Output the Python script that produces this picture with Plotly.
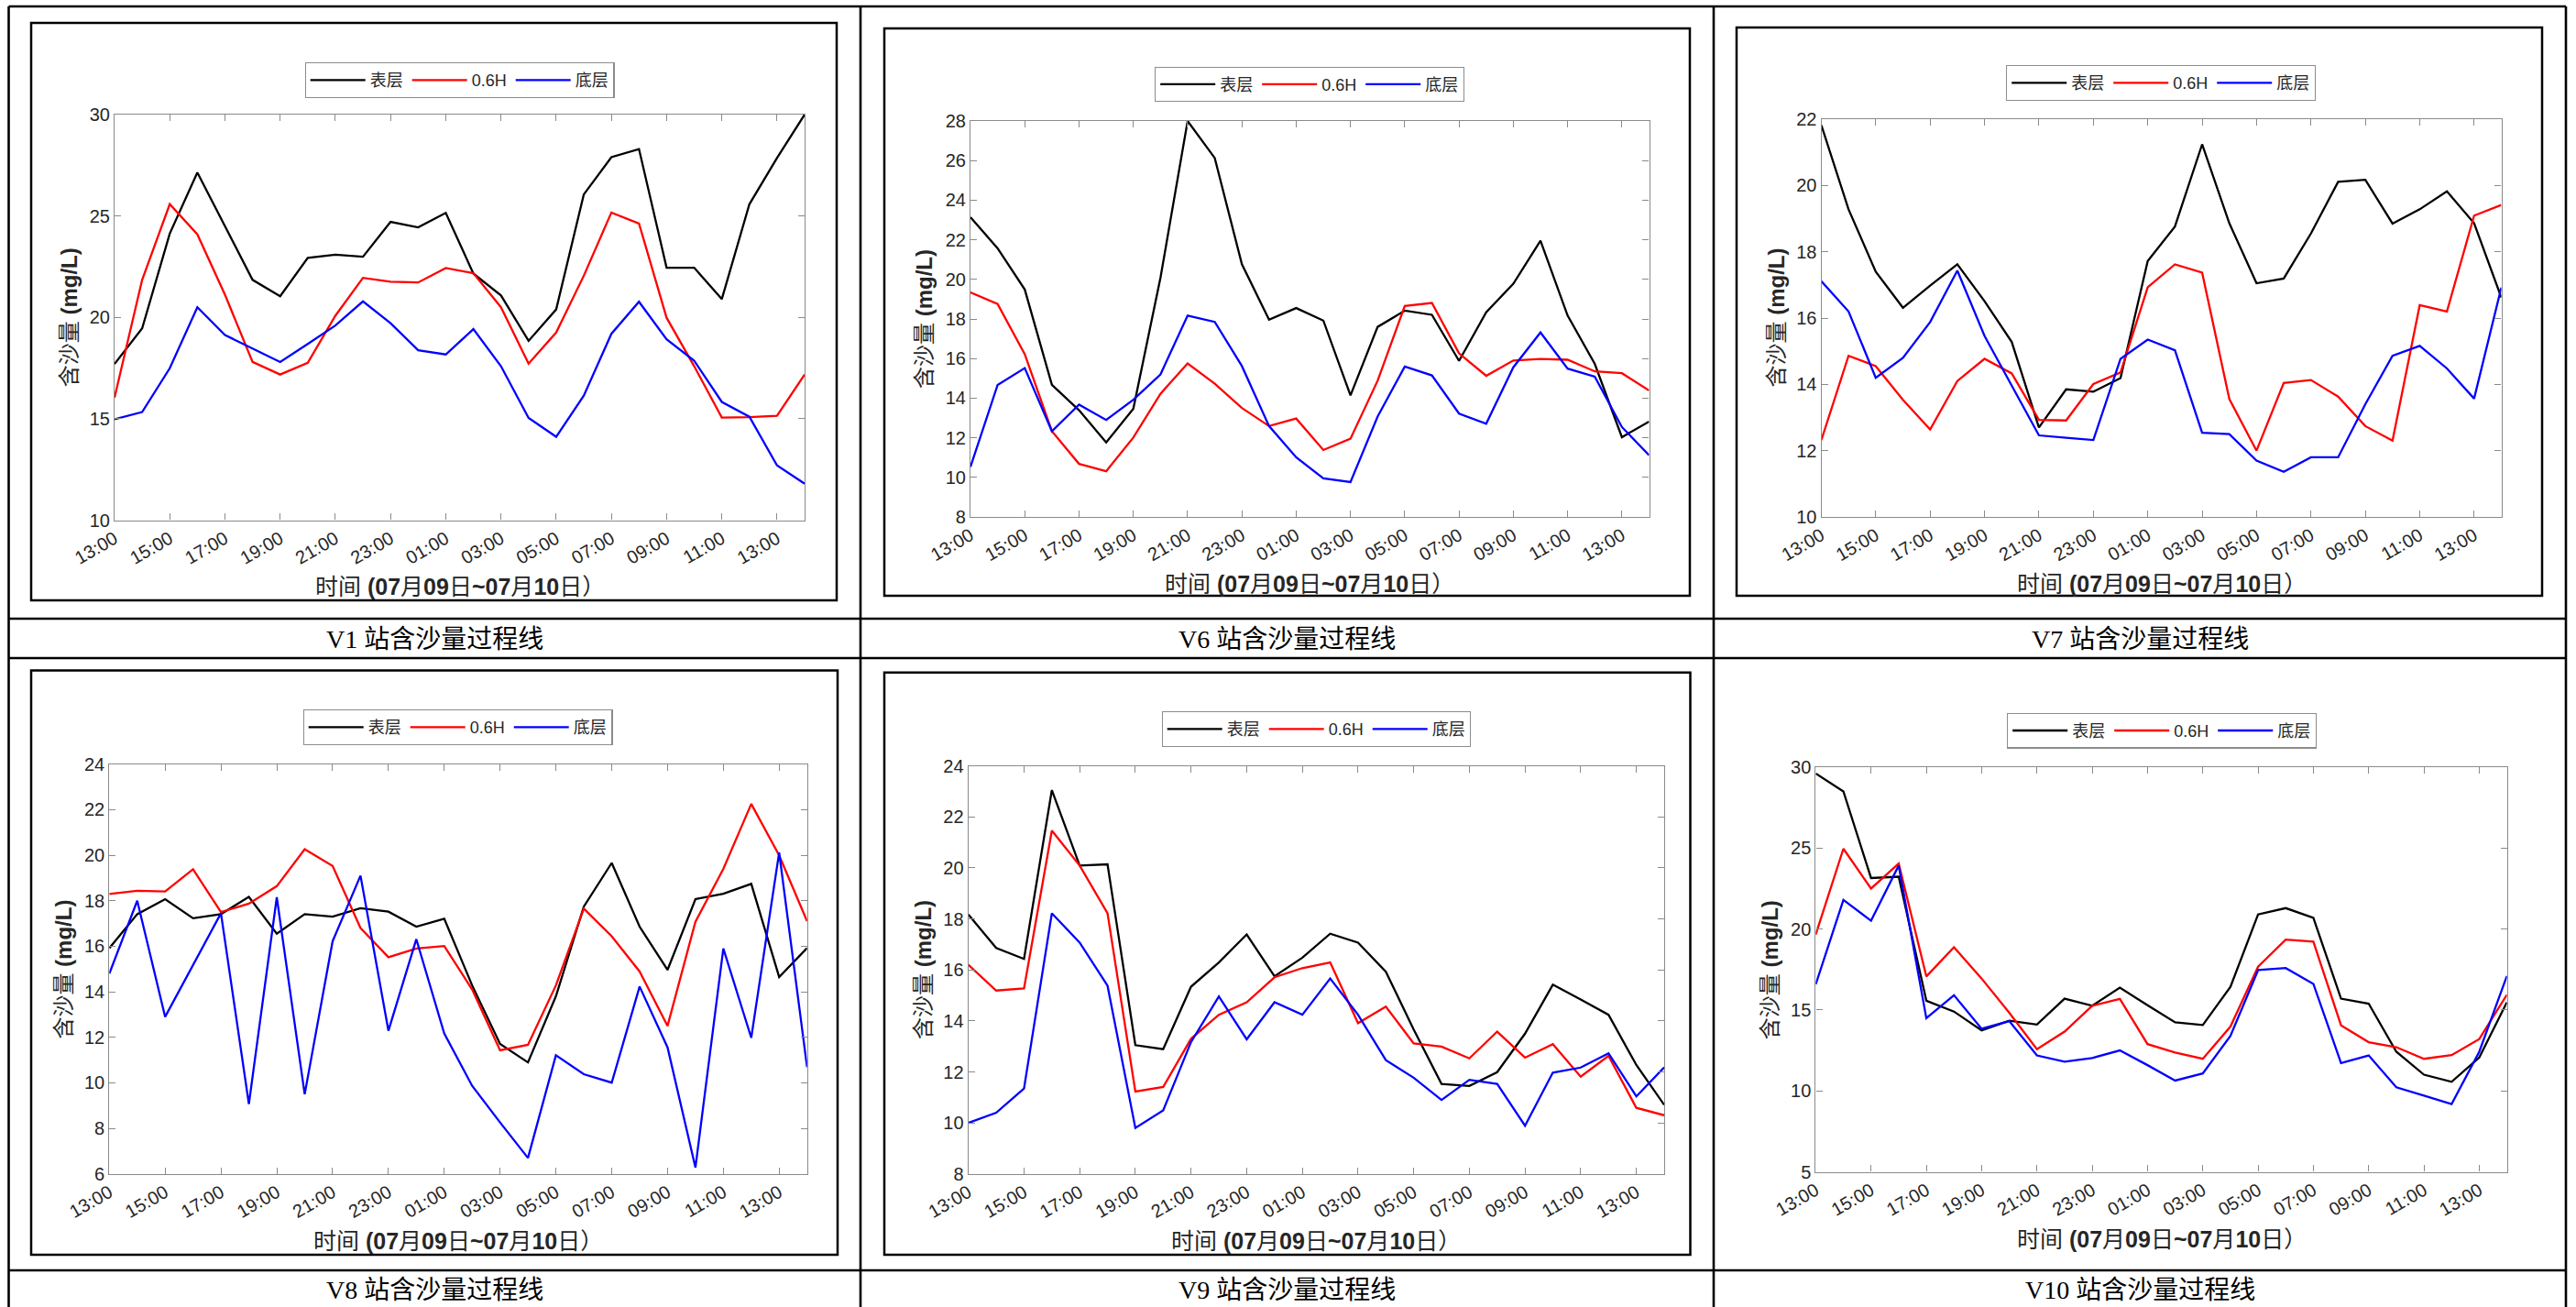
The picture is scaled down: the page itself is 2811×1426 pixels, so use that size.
import plotly.graph_objects as go

W, H = 2811, 1426

hours = list(range(26))
tick_vals = list(range(0, 25, 2))
tick_text = ["13:00", "15:00", "17:00", "19:00", "21:00", "23:00", "01:00",
             "03:00", "05:00", "07:00", "09:00", "11:00", "13:00"]

series_names = ["表层", "0.6H", "底层"]
series_colors = ["#000000", "#ff0000", "#0000ff"]

stations = ["V1", "V6", "V7", "V8", "V9", "V10"]

v1_surface = [17.7, 19.46, 24.13, 27.14, 24.5, 21.85, 21.04, 22.93, 23.09, 22.99, 24.71, 24.44, 25.15,
              22.16, 21.08, 18.84, 20.39, 26.06, 27.9, 28.3, 22.45, 22.45, 20.9, 25.58, 27.86, 30.0]
v1_mid = [16.04, 21.85, 25.58, 24.09, 21.12, 17.8, 17.18, 17.76, 20.08, 21.95, 21.76, 21.72, 22.43,
          22.18, 20.5, 17.72, 19.25, 22.05, 25.17, 24.63, 19.98, 17.59, 15.06, 15.08, 15.15, 17.18]
v1_bottom = [14.98, 15.33, 17.49, 20.5, 19.13, 18.46, 17.8, 18.69, 19.6, 20.79, 19.71, 18.38, 18.17,
             19.42, 17.59, 15.04, 14.11, 16.14, 19.19, 20.77, 18.92, 17.86, 15.83, 15.1, 12.7, 11.8]

v6_surface = [23.14, 21.57, 19.49, 14.67, 13.39, 11.76, 13.46, 20.08, 28.0, 26.13, 20.76, 17.96, 18.55,
              17.92, 14.14, 17.6, 18.42, 18.21, 15.88, 18.34, 19.78, 21.95, 18.17, 15.73, 12.03, 12.82]
v6_mid = [19.34, 18.76, 16.22, 12.33, 10.68, 10.31, 12.01, 14.22, 15.75, 14.73, 13.5, 12.59, 12.97,
          11.38, 11.95, 14.88, 18.66, 18.81, 16.26, 15.13, 15.9, 15.98, 15.94, 15.35, 15.26, 14.39]
v6_bottom = [10.53, 14.67, 15.52, 12.33, 13.67, 12.9, 13.92, 15.2, 18.17, 17.85, 15.62, 12.59, 11.01,
             9.95, 9.76, 13.07, 15.6, 15.15, 13.22, 12.71, 15.56, 17.32, 15.49, 15.09, 12.54, 11.12]

v7_surface = [21.82, 19.28, 17.4, 16.31, 16.98, 17.62, 16.51, 15.28, 12.7, 13.85, 13.78, 14.19, 17.72,
              18.76, 21.24, 18.86, 17.05, 17.19, 18.55, 20.11, 20.17, 18.85, 19.28, 19.82, 18.86, 16.62]
v7_mid = [12.32, 14.86, 14.55, 13.53, 12.64, 14.1, 14.77, 14.33, 12.93, 12.91, 14.01, 14.36, 16.93,
          17.62, 17.37, 13.56, 12.0, 14.04, 14.13, 13.63, 12.74, 12.3, 16.39, 16.2, 19.09, 19.41]
v7_bottom = [17.11, 16.2, 14.2, 14.8, 15.88, 17.43, 15.46, 13.94, 12.46, 12.39, 12.32, 14.77, 15.35,
             15.03, 12.54, 12.5, 11.7, 11.36, 11.8, 11.8, 13.4, 14.86, 15.16, 14.48, 13.57, 16.92]

v8_surface = [15.92, 17.41, 18.07, 17.23, 17.41, 18.17, 16.55, 17.41, 17.3, 17.67, 17.52, 16.86, 17.21,
              14.28, 11.71, 10.9, 13.8, 17.74, 19.66, 16.86, 14.96, 18.07, 18.31, 18.74, 14.65, 15.92]
v8_mid = [18.3, 18.44, 18.41, 19.38, 17.5, 17.87, 18.64, 20.26, 19.53, 16.8, 15.52, 15.9, 16.01,
          14.1, 11.43, 11.67, 14.28, 17.65, 16.44, 14.89, 12.5, 17.08, 19.4, 22.25, 19.99, 17.1]
v8_bottom = [14.8, 18.0, 12.9, 15.17, 17.45, 9.07, 18.15, 9.5, 16.22, 19.1, 12.29, 16.31, 12.17,
             9.87, 8.26, 6.7, 11.21, 10.38, 10.01, 14.23, 11.56, 6.28, 15.9, 11.98, 20.12, 10.69]

v9_surface = [18.17, 16.86, 16.43, 23.05, 20.09, 20.14, 13.05, 12.89, 15.34, 16.29, 17.39, 15.75, 16.48,
              17.42, 17.07, 15.93, 13.66, 11.53, 11.45, 11.99, 13.5, 15.42, 14.84, 14.24, 12.27, 10.71]
v9_mid = [16.2, 15.19, 15.27, 21.46, 20.09, 18.22, 11.23, 11.41, 13.3, 14.24, 14.73, 15.71, 16.07,
          16.29, 13.91, 14.56, 13.12, 12.99, 12.53, 13.58, 12.56, 13.09, 11.81, 12.63, 10.59, 10.3]
v9_bottom = [10.0, 10.4, 11.35, 18.22, 17.07, 15.38, 9.8, 10.49, 13.17, 14.96, 13.28, 14.73, 14.24,
             15.66, 14.24, 12.46, 11.77, 10.9, 11.69, 11.53, 9.89, 11.97, 12.17, 12.73, 11.04, 12.18]

v10_surface = [29.61, 28.5, 23.15, 23.23, 15.57, 14.9, 13.74, 14.33, 14.1, 15.7, 15.26, 16.38, 15.29,
               14.23, 14.07, 16.43, 20.9, 21.29, 20.69, 15.7, 15.39, 12.42, 11.0, 10.56, 12.06, 15.47]
v10_mid = [19.66, 24.96, 22.5, 24.05, 17.07, 18.88, 16.94, 14.82, 12.57, 13.66, 15.26, 15.68, 12.89,
           12.37, 11.98, 13.97, 17.67, 19.35, 19.22, 14.05, 13.01, 12.7, 11.98, 12.21, 13.2, 15.94]
v10_bottom = [16.58, 21.8, 20.51, 23.92, 14.49, 15.91, 13.84, 14.31, 12.19, 11.8, 12.03, 12.5, 11.59,
              10.64, 11.08, 13.4, 17.46, 17.59, 16.61, 11.72, 12.19, 10.22, 9.71, 9.19, 12.42, 17.1]

station_data = [
    (v1_surface, v1_mid, v1_bottom),
    (v6_surface, v6_mid, v6_bottom),
    (v7_surface, v7_mid, v7_bottom),
    (v8_surface, v8_mid, v8_bottom),
    (v9_surface, v9_mid, v9_bottom),
    (v10_surface, v10_mid, v10_bottom),
]
y_ranges = [(10, 30), (8, 28), (10, 22), (6, 24), (8, 24), (5, 30)]
y_dticks = [5, 2, 2, 2, 2, 5]

# layout geometry in pixels: axes box (x0, x1, y0, y1), legend centre/top, figure frame
axes_px = [
    (125, 878, 125, 567.5),
    (1059, 1799.5, 132, 564),
    (1987.5, 2729.5, 130, 564),
    (119.3, 880.7, 833.7, 1280.8),
    (1056.7, 1816, 835.6, 1280.8),
    (1981.4, 2735.6, 837, 1278.5),
]
legend_px = [(501.5, 68), (1429, 72.5), (2358, 71), (499.5, 774), (1436.5, 776), (2359, 777.6)]
frame_px = [
    (34, 913, 25, 655),
    (965, 1844, 31, 650),
    (1895, 2774, 30, 650),
    (34, 914, 731.5, 1369),
    (965, 1844.5, 733.7, 1369),
    None,
]


def px_x(v):
    return v / W


def px_y(v):
    return 1 - v / H


FONT_SANS = "Liberation Sans, Arial, Noto Sans CJK SC, sans-serif"
FONT_SERIF = "Liberation Serif, Times New Roman, Noto Sans CJK SC, serif"
AX_COLOR = "#8a8a8a"
TXT_COLOR = "#262626"

fig = go.Figure()
layout = dict(
    template="none",
    width=W, height=H, autosize=False,
    margin=dict(l=0, r=0, t=0, b=0, pad=0),
    paper_bgcolor="white", plot_bgcolor="white",
    showlegend=True,
)
annotations = []
shapes = []

for i, (st, data) in enumerate(zip(stations, station_data)):
    n = i + 1
    xa = "x" if n == 1 else f"x{n}"
    ya = "y" if n == 1 else f"y{n}"
    lg = "legend" if n == 1 else f"legend{n}"
    for name, vals, col in zip(series_names, data, series_colors):
        fig.add_trace(go.Scatter(
            x=hours, y=vals, name=name, mode="lines",
            line=dict(color=col, width=2.3),
            xaxis=xa, yaxis=ya, legend=lg,
        ))
    x0, x1, y0, y1 = axes_px[i]
    xkey = "xaxis" if n == 1 else f"xaxis{n}"
    ykey = "yaxis" if n == 1 else f"yaxis{n}"
    layout[xkey] = dict(
        domain=[px_x(x0), px_x(x1)], anchor=ya, range=[0, 25], automargin=False,
        tickmode="array", tickvals=tick_vals, ticktext=tick_text, tickangle=-30,
        ticks="inside", ticklen=7, tickwidth=1.2, tickcolor=AX_COLOR,
        showline=True, linecolor=AX_COLOR, linewidth=1.2, mirror="ticks",
        showgrid=False, zeroline=False,
        tickfont=dict(family=FONT_SANS, size=20, color=TXT_COLOR),
    )
    yr = y_ranges[i]
    layout[ykey] = dict(
        domain=[px_y(y1), px_y(y0)], anchor=xa, range=list(yr), automargin=False,
        tickmode="linear", tick0=yr[0], dtick=y_dticks[i],
        ticks="inside", ticklen=7, tickwidth=1.2, tickcolor=AX_COLOR,
        showline=True, linecolor=AX_COLOR, linewidth=1.2, mirror="ticks",
        showgrid=False, zeroline=False,
        tickfont=dict(family=FONT_SANS, size=20, color=TXT_COLOR),
    )
    lx, ly = legend_px[i]
    layout[lg] = dict(
        x=px_x(lx), y=px_y(ly), xanchor="center", yanchor="top",
        orientation="h", bgcolor="white", bordercolor="#8c8c8c", borderwidth=1.2,
        font=dict(family=FONT_SANS, size=18, color=TXT_COLOR),
        itemwidth=60, tracegroupgap=0, itemclick=False,
    )
    # axis titles
    annotations.append(dict(
        x=px_x((x0 + x1) / 2), y=px_y(y1 + 73), xref="paper", yref="paper",
        text="时间 <b>(07</b>月<b>09</b>日<b>~07</b>月<b>10</b>日）",
        showarrow=False, xanchor="center", yanchor="middle",
        font=dict(family=FONT_SANS, size=25, color=TXT_COLOR),
    ))
    annotations.append(dict(
        x=px_x(x0 - 50), y=px_y((y0 + y1) / 2), xref="paper", yref="paper",
        text="含沙量 <b>(mg/L)</b>", textangle=-90,
        showarrow=False, xanchor="center", yanchor="middle",
        font=dict(family=FONT_SANS, size=24, color=TXT_COLOR),
    ))
    fr = frame_px[i]
    if fr is not None:
        fx0, fx1, fy0, fy1 = fr
        shapes.append(dict(type="rect", xref="paper", yref="paper",
                           x0=px_x(fx0), x1=px_x(fx1), y0=px_y(fy1), y1=px_y(fy0),
                           line=dict(color="#000000", width=2.5), fillcolor="rgba(0,0,0,0)"))

# table grid
col_edges = [9.5, 939, 1870, 2800]
row_lines = [7, 675, 718, 1386]
for yv in row_lines:
    shapes.append(dict(type="line", xref="paper", yref="paper",
                       x0=px_x(col_edges[0]), x1=px_x(col_edges[-1]), y0=px_y(yv), y1=px_y(yv),
                       line=dict(color="#000000", width=2.6)))
for xv in col_edges:
    shapes.append(dict(type="line", xref="paper", yref="paper",
                       x0=px_x(xv), x1=px_x(xv), y0=px_y(row_lines[0]), y1=px_y(H + 5),
                       line=dict(color="#000000", width=2.6)))

caption_y = [697, 1407]
for i, st in enumerate(stations):
    r, c = divmod(i, 3)
    cx = (col_edges[c] + col_edges[c + 1]) / 2
    annotations.append(dict(
        x=px_x(cx), y=px_y(caption_y[r]), xref="paper", yref="paper",
        text=f"{st} 站含沙量过程线", showarrow=False, xanchor="center", yanchor="middle",
        font=dict(family=FONT_SERIF, size=28, color="#000000"),
    ))

layout["annotations"] = annotations
layout["shapes"] = shapes
fig.update_layout(**layout)

fig.write_html(
    "out.html",
    config={"displayModeBar": False},
    post_script="document.body.style.margin='0px';document.body.style.overflow='hidden';",
)
